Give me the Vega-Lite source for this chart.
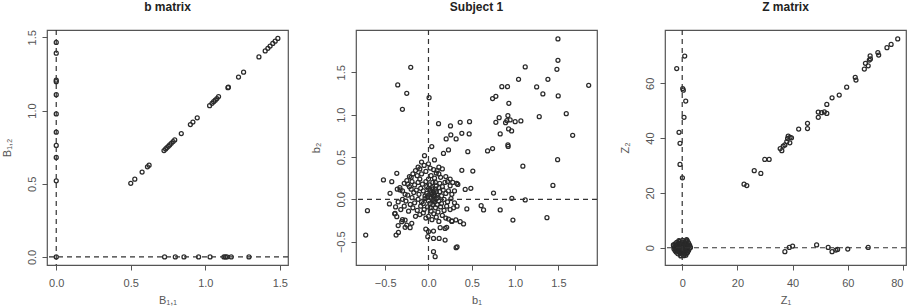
{
  "$schema": "https://vega.github.io/schema/vega-lite/v6.json",
  "padding": 0,
  "background": "white",
  "spacing": 68,
  "bounds": "flush",
  "config": {
    "view": {"stroke": "#555", "strokeWidth": 1.2},
    "axis": {"domain": false, "grid": false, "ticks": true, "tickSize": 5, "tickColor": "#555", "tickWidth": 1,
      "labelFont": "Liberation Sans, DejaVu Sans", "labelFontSize": 11, "labelColor": "#555", "labelFlush": false, "labelOverlap": false, "labelBound": false,
      "titleFont": "Liberation Sans, DejaVu Sans", "titleFontSize": 11, "titleFontWeight": "normal", "titleColor": "#555"},
    "axisX": {"labelBaseline": "middle", "labelPadding": 13, "titleY": 35, "titleBaseline": "middle"},
    "axisY": {"labelAngle": 270, "labelAlign": "center", "labelBaseline": "middle", "labelPadding": 10, "titleX": -40, "titleBaseline": "middle", "titleAngle": 270},
    "title": {"font": "Liberation Sans, DejaVu Sans", "fontSize": 12, "fontWeight": "bold", "color": "#222", "offset": 15, "anchor": "middle"},
    "point": {"shape": "circle", "filled": false, "stroke": "#2a2a2a", "strokeWidth": 1.25, "size": 16, "opacity": 1}
  },
  "datasets": {
    "b": [
      {"x":0,"y":1.465},{"x":0,"y":1.392},{"x":0,"y":1.207},{"x":0,"y":1.197},{"x":0,"y":1.108},{"x":0,"y":0.977},{"x":0,"y":0.852},{"x":0,"y":0.762},{"x":0,"y":0.68},{"x":0,"y":0.52},{"x":0,"y":0},
      {"x":0.727,"y":0},{"x":0.799,"y":0},{"x":0.857,"y":0},{"x":0.955,"y":0},{"x":1.032,"y":0},{"x":1.125,"y":0},{"x":1.135,"y":0},{"x":1.145,"y":0},{"x":1.174,"y":0},{"x":1.293,"y":0},
      {"x":0.5,"y":0.503},{"x":0.527,"y":0.531},{"x":0.576,"y":0.58},{"x":0.612,"y":0.616},{"x":0.623,"y":0.627},{"x":0.723,"y":0.727},{"x":0.734,"y":0.738},{"x":0.743,"y":0.747},{"x":0.752,"y":0.756},{"x":0.761,"y":0.765},{"x":0.772,"y":0.776},{"x":0.784,"y":0.788},{"x":0.795,"y":0.799},{"x":0.839,"y":0.843},{"x":0.9,"y":0.904},{"x":0.917,"y":0.921},{"x":0.946,"y":0.95},{"x":1.029,"y":1.033},{"x":1.045,"y":1.049},{"x":1.056,"y":1.06},{"x":1.067,"y":1.071},{"x":1.078,"y":1.082},{"x":1.089,"y":1.095},{"x":1.152,"y":1.156},{"x":1.155,"y":1.159},{"x":1.223,"y":1.229},{"x":1.257,"y":1.262},{"x":1.36,"y":1.366},{"x":1.402,"y":1.407},{"x":1.42,"y":1.425},{"x":1.435,"y":1.44},{"x":1.453,"y":1.458},{"x":1.469,"y":1.474},{"x":1.487,"y":1.492}
    ],
    "s": [
      {"x":-0.205,"y":1.56},{"x":-0.355,"y":1.351},{"x":-0.251,"y":1.252},{"x":0.007,"y":1.201},{"x":-0.301,"y":1.063},
      {"x":0.116,"y":0.894},{"x":0.254,"y":0.867},{"x":0.366,"y":0.91},{"x":0.474,"y":0.918},{"x":0.258,"y":0.761},{"x":0.204,"y":0.713},{"x":0.319,"y":0.713},{"x":0.385,"y":0.78},{"x":0.47,"y":0.772},{"x":0.038,"y":0.623},
      {"x":1.495,"y":1.895},{"x":1.495,"y":1.642},{"x":1.117,"y":1.564},{"x":1.483,"y":1.536},{"x":1.04,"y":1.418},{"x":1.379,"y":1.418},{"x":0.847,"y":1.331},{"x":0.913,"y":1.331},{"x":1.249,"y":1.328},{"x":1.85,"y":1.347},{"x":1.321,"y":1.245},{"x":1.498,"y":1.221},{"x":0.74,"y":1.19},{"x":0.778,"y":1.217},{"x":0.928,"y":1.134},{"x":1.591,"y":1.012},{"x":1.279,"y":0.977},{"x":0.917,"y":0.989},{"x":0.816,"y":0.965},{"x":0.778,"y":0.91},{"x":0.89,"y":0.906},{"x":0.905,"y":0.93},{"x":0.943,"y":0.938},{"x":1.001,"y":0.918},{"x":1.067,"y":0.926},{"x":0.925,"y":0.832},{"x":0.96,"y":0.808},{"x":0.828,"y":0.772},{"x":1.665,"y":0.756},{"x":0.917,"y":0.643},{"x":0.92,"y":0.625},
      {"x":0.454,"y":0.563},{"x":0.682,"y":0.572},{"x":0.74,"y":0.6},{"x":1.09,"y":0.392},{"x":1.491,"y":0.469},{"x":1.437,"y":0.165},{"x":0.385,"y":0.343},{"x":0.512,"y":0.335},{"x":0.424,"y":0.118},{"x":0.489,"y":0.13},{"x":0.751,"y":0.075},{"x":0.963,"y":0.012},{"x":1.117,"y":-0.007},{"x":0.443,"y":-0.113},{"x":0.608,"y":-0.074},{"x":0.636,"y":-0.125},{"x":0.828,"y":-0.125},{"x":0.975,"y":-0.244},{"x":1.368,"y":-0.216},{"x":0.405,"y":-0.29},
      {"x":-0.046,"y":0.516},{"x":0.069,"y":0.465},{"x":0.173,"y":0.543},{"x":0.231,"y":0.583},{"x":-0.366,"y":0.307},{"x":-0.52,"y":0.229},{"x":-0.424,"y":0.209},{"x":-0.444,"y":0.071},{"x":-0.451,"y":-0.054},{"x":-0.705,"y":-0.134},{"x":-0.725,"y":-0.421},{"x":-0.386,"y":-0.165},{"x":-0.366,"y":-0.204},{"x":-0.328,"y":0.111},{"x":-0.374,"y":-0.421},{"x":-0.347,"y":-0.39},{"x":-0.309,"y":-0.263},{"x":-0.27,"y":-0.244},{"x":-0.251,"y":-0.303},{"x":-0.212,"y":-0.334},{"x":-0.193,"y":-0.283},{"x":-0.031,"y":-0.35},{"x":0.0,"y":-0.382},{"x":0.058,"y":-0.374},{"x":-0.008,"y":-0.441},{"x":0.058,"y":-0.461},{"x":0.123,"y":-0.461},{"x":0.135,"y":-0.334},{"x":0.192,"y":-0.343},{"x":0.192,"y":-0.48},{"x":0.319,"y":-0.571},{"x":0.33,"y":-0.56},{"x":0.058,"y":-0.618},{"x":0.077,"y":-0.677},{"x":0.269,"y":-0.255},{"x":0.316,"y":-0.243},{"x":0.366,"y":-0.263},{"x":0.231,"y":-0.232},{"x":0.327,"y":0.189},{"x":0.339,"y":0.177},
      {"x":-0.08,"y":0.44},{"x":0.0,"y":0.42},{"x":-0.12,"y":0.38},{"x":-0.1,"y":0.36},{"x":-0.05,"y":0.4},{"x":0.02,"y":0.37},{"x":0.06,"y":0.35},{"x":0.12,"y":0.38},{"x":0.1,"y":0.34},{"x":-0.15,"y":0.34},{"x":0.09,"y":0.31},{"x":0.16,"y":0.36},
      {"x":-0.22,"y":0.27},{"x":-0.2,"y":0.26},{"x":-0.25,"y":0.22},{"x":-0.18,"y":0.3},{"x":-0.13,"y":0.28},{"x":-0.08,"y":0.3},{"x":-0.03,"y":0.33},{"x":0.03,"y":0.28},{"x":0.07,"y":0.25},{"x":0.12,"y":0.3},{"x":0.2,"y":0.27},{"x":0.25,"y":0.24},{"x":0.14,"y":0.26},{"x":-0.1,"y":0.24},{"x":0.0,"y":0.24},{"x":0.22,"y":0.21},{"x":0.19,"y":0.2},
      {"x":-0.28,"y":0.19},{"x":-0.24,"y":0.18},{"x":-0.19,"y":0.21},{"x":-0.16,"y":0.17},{"x":-0.12,"y":0.2},{"x":-0.07,"y":0.18},{"x":-0.03,"y":0.21},{"x":0.01,"y":0.17},{"x":0.05,"y":0.2},{"x":0.09,"y":0.16},{"x":0.13,"y":0.19},{"x":0.16,"y":0.15},{"x":0.25,"y":0.16},{"x":0.28,"y":0.2},{"x":-0.33,"y":0.14},{"x":-0.36,"y":0.12},{"x":-0.22,"y":0.15},{"x":0.04,"y":0.14},{"x":-0.09,"y":0.13},
      {"x":-0.3,"y":0.1},{"x":-0.27,"y":0.06},{"x":-0.2,"y":0.12},{"x":-0.17,"y":0.08},{"x":-0.14,"y":0.11},{"x":-0.11,"y":0.06},{"x":-0.06,"y":0.1},{"x":-0.02,"y":0.07},{"x":0.02,"y":0.11},{"x":0.06,"y":0.08},{"x":0.08,"y":0.12},{"x":0.1,"y":0.05},{"x":0.13,"y":0.09},{"x":0.17,"y":0.11},{"x":0.2,"y":0.07},{"x":0.23,"y":0.1},{"x":0.27,"y":0.06},{"x":0.3,"y":0.1},{"x":0.06,"y":0.04},{"x":0.04,"y":0.06},{"x":0.11,"y":0.02},{"x":-0.04,"y":0.04},{"x":0.15,"y":0.04},{"x":-0.24,"y":0.05},{"x":0.09,"y":0.09},{"x":0.0,"y":0.13},{"x":0.03,"y":0.02},
      {"x":-0.35,"y":-0.03},{"x":-0.3,"y":0.0},{"x":-0.26,"y":-0.02},{"x":-0.19,"y":0.02},{"x":-0.16,"y":-0.04},{"x":-0.12,"y":0.0},{"x":-0.08,"y":-0.03},{"x":-0.04,"y":0.01},{"x":0.0,"y":-0.02},{"x":0.02,"y":-0.05},{"x":0.05,"y":0.0},{"x":0.07,"y":-0.03},{"x":0.09,"y":0.01},{"x":0.12,"y":-0.02},{"x":0.15,"y":-0.05},{"x":0.18,"y":0.0},{"x":0.22,"y":-0.03},{"x":0.26,"y":0.01},{"x":0.3,"y":-0.04},{"x":0.33,"y":-0.08},{"x":-0.21,"y":-0.06},{"x":0.05,"y":-0.06},
      {"x":-0.38,"y":-0.09},{"x":-0.32,"y":-0.12},{"x":-0.28,"y":-0.08},{"x":-0.23,"y":-0.14},{"x":-0.18,"y":-0.1},{"x":-0.13,"y":-0.13},{"x":-0.09,"y":-0.08},{"x":-0.05,"y":-0.12},{"x":-0.01,"y":-0.09},{"x":0.03,"y":-0.14},{"x":0.08,"y":-0.1},{"x":0.11,"y":-0.15},{"x":0.14,"y":-0.09},{"x":0.18,"y":-0.13},{"x":0.21,"y":-0.08},{"x":0.25,"y":-0.12},{"x":0.29,"y":-0.1},{"x":-0.06,"y":-0.16},{"x":0.06,"y":-0.17},
      {"x":-0.39,"y":-0.17},{"x":-0.3,"y":-0.24},{"x":-0.15,"y":-0.2},{"x":-0.1,"y":-0.18},{"x":-0.03,"y":-0.22},{"x":0.0,"y":-0.2},{"x":0.04,"y":-0.24},{"x":0.09,"y":-0.21},{"x":0.12,"y":-0.26},{"x":0.16,"y":-0.19},{"x":0.2,"y":-0.22},{"x":0.27,"y":-0.26},{"x":0.21,"y":-0.33},{"x":-0.35,"y":-0.31},{"x":-0.27,"y":-0.33},
      {"x":0.03,"y":0.08},{"x":0.07,"y":0.06},{"x":-0.01,"y":0.03},{"x":0.05,"y":0.12},{"x":0.1,"y":-0.06},{"x":0.02,"y":-0.1},{"x":-0.06,"y":-0.05},{"x":0.12,"y":0.14},{"x":0.08,"y":0.2},{"x":-0.02,"y":0.15},{"x":0.0,"y":0.05},{"x":0.06,"y":-0.01}
    ],
    "z": [
      {"x":0.9,"y":69.96},{"x":-2.0,"y":65.4},{"x":0.18,"y":58.1},{"x":0.4,"y":57.5},{"x":1.27,"y":53.5},{"x":0.65,"y":47.6},{"x":-1.16,"y":42.1},{"x":-0.8,"y":38.1},{"x":-0.8,"y":30.4},{"x":0.07,"y":25.5},
      {"x":22.4,"y":23.2},{"x":23.4,"y":22.7},{"x":26.1,"y":28.1},{"x":28.5,"y":27.1},{"x":29.9,"y":32.2},{"x":31.5,"y":32.2},{"x":35.5,"y":36.2},{"x":36.1,"y":35.4},{"x":36.6,"y":37.1},{"x":37.2,"y":37.5},{"x":38.2,"y":39.9},{"x":38.4,"y":40.7},{"x":39.1,"y":40.3},{"x":39.6,"y":40.1},{"x":39.0,"y":38.3},{"x":37.9,"y":38.7},{"x":42.2,"y":43.3},{"x":45.4,"y":45.4},{"x":45.4,"y":43.5},{"x":49.3,"y":47.6},{"x":49.3,"y":49.5},{"x":50.5,"y":49.3},{"x":51.5,"y":49.6},{"x":52.4,"y":49.0},{"x":52.4,"y":52.3},{"x":54.3,"y":54.7},{"x":56.9,"y":55.7},{"x":59.6,"y":58.6},{"x":62.7,"y":62.2},{"x":62.97,"y":61.2},{"x":66.0,"y":65.2},{"x":66.4,"y":67.3},{"x":67.4,"y":66.4},{"x":67.8,"y":68.5},{"x":68.1,"y":70.0},{"x":68.2,"y":68.9},{"x":70.9,"y":71.2},{"x":71.2,"y":70.3},{"x":74.2,"y":73.0},{"x":75.7,"y":74.2},{"x":78.1,"y":76.2},
      {"x":37.2,"y":-1.46},{"x":38.8,"y":0.1},{"x":40.0,"y":0.6},{"x":48.7,"y":1.0},{"x":52.9,"y":0.1},{"x":54.3,"y":-1.46},{"x":55.7,"y":-0.85},{"x":56.3,"y":-0.6},{"x":60.0,"y":-0.5},{"x":67.4,"y":0.1},
      {"x":-1.2,"y":2.6},{"x":0.1,"y":2.7},{"x":1.3,"y":2.5},{"x":1.8,"y":2.6},
      {"x":-2.0,"y":2.0},{"x":-1.0,"y":2.1},{"x":-0.3,"y":1.9},{"x":0.5,"y":2.0},{"x":1.2,"y":2.1},{"x":2.2,"y":1.9},
      {"x":-2.6,"y":1.4},{"x":-1.6,"y":1.5},{"x":-0.8,"y":1.3},{"x":0.0,"y":1.4},{"x":0.7,"y":1.5},{"x":1.5,"y":1.3},{"x":2.4,"y":1.4},
      {"x":-3.1,"y":0.8},{"x":-2.2,"y":0.9},{"x":-1.4,"y":0.7},{"x":-0.5,"y":0.8},{"x":0.3,"y":0.9},{"x":1.0,"y":0.7},{"x":1.9,"y":0.8},{"x":2.7,"y":0.9},
      {"x":-2.8,"y":0.2},{"x":-1.9,"y":0.1},{"x":-1.1,"y":0.3},{"x":-0.3,"y":0.2},{"x":0.4,"y":0.1},{"x":1.2,"y":0.3},{"x":2.1,"y":0.2},{"x":3.0,"y":0.1},
      {"x":-3.0,"y":-0.4},{"x":-2.3,"y":-0.3},{"x":-1.5,"y":-0.5},{"x":-0.7,"y":-0.4},{"x":0.1,"y":-0.3},{"x":0.9,"y":-0.5},{"x":1.7,"y":-0.4},{"x":2.6,"y":-0.3},
      {"x":-2.6,"y":-1.0},{"x":-1.8,"y":-1.1},{"x":-1.0,"y":-0.9},{"x":-0.2,"y":-1.0},{"x":0.6,"y":-1.1},{"x":1.4,"y":-0.9},{"x":2.3,"y":-1.0},
      {"x":-2.2,"y":-1.6},{"x":-1.3,"y":-1.5},{"x":-0.5,"y":-1.7},{"x":0.3,"y":-1.6},{"x":1.1,"y":-1.5},{"x":1.9,"y":-1.7},
      {"x":-1.6,"y":-2.2},{"x":-0.8,"y":-2.1},{"x":0.0,"y":-2.3},{"x":0.8,"y":-2.2},{"x":1.6,"y":-2.1},
      {"x":-0.5,"y":-2.8},{"x":0.6,"y":-2.9},{"x":1.3,"y":-2.7},
      {"x":1.6,"y":3.0},{"x":-0.5,"y":-3.0},{"x":-3.2,"y":1.0},{"x":0.2,"y":0.5},{"x":-0.6,"y":-0.1},{"x":0.8,"y":-0.7},{"x":-1.3,"y":1.1},{"x":1.5,"y":0.5},{"x":-0.2,"y":-1.3},{"x":0.5,"y":1.7},{"x":-1.8,"y":-0.6},{"x":2.0,"y":-0.9},{"x":-0.9,"y":2.3}
    ]
  },
  "hconcat": [
    {
      "width": 241, "height": 235,
      "title": "b matrix",
      "layer": [
        {"data": {"name": "b"}, "mark": {"type": "point"},
         "encoding": {
           "x": {"field": "x", "type": "quantitative", "scale": {"domain": [-0.062, 1.555], "nice": false, "zero": false}, "axis": {"title": "B₁,₁", "values": [0, 0.5, 1, 1.5], "format": ".1f"}},
           "y": {"field": "y", "type": "quantitative", "scale": {"domain": [-0.055, 1.55], "nice": false, "zero": false}, "axis": {"title": "B₁,₂", "values": [0, 0.5, 1, 1.5], "format": ".1f"}}
         }},
        {"data": {"values": [{}]}, "mark": {"type": "rule", "stroke": "#333", "strokeWidth": 1.2, "strokeDash": [5, 4]}, "encoding": {"x": {"datum": 0, "type": "quantitative"}}},
        {"data": {"values": [{}]}, "mark": {"type": "rule", "stroke": "#333", "strokeWidth": 1.2, "strokeDash": [5, 4]}, "encoding": {"y": {"datum": 0, "type": "quantitative"}}}
      ]
    },
    {
      "width": 241, "height": 235,
      "title": "Subject 1",
      "layer": [
        {"data": {"name": "s"}, "mark": {"type": "point"},
         "encoding": {
           "x": {"field": "x", "type": "quantitative", "scale": {"domain": [-0.837, 1.946], "nice": false, "zero": false}, "axis": {"title": "b₁", "values": [-0.5, 0, 0.5, 1, 1.5], "format": ".1f"}},
           "y": {"field": "y", "type": "quantitative", "scale": {"domain": [-0.775, 2.0], "nice": false, "zero": false}, "axis": {"title": "b₂", "values": [-0.5, 0, 0.5, 1, 1.5], "format": ".1f"}}
         }},
        {"data": {"values": [{}]}, "mark": {"type": "rule", "stroke": "#333", "strokeWidth": 1.2, "strokeDash": [5, 4]}, "encoding": {"x": {"datum": 0, "type": "quantitative"}}},
        {"data": {"values": [{}]}, "mark": {"type": "rule", "stroke": "#333", "strokeWidth": 1.2, "strokeDash": [5, 4]}, "encoding": {"y": {"datum": 0, "type": "quantitative"}}}
      ]
    },
    {
      "width": 241, "height": 235,
      "title": "Z matrix",
      "layer": [
        {"data": {"name": "z"}, "mark": {"type": "point"},
         "encoding": {
           "x": {"field": "x", "type": "quantitative", "scale": {"domain": [-6.24, 81.1], "nice": false, "zero": false}, "axis": {"title": "Z₁", "values": [0, 20, 40, 60, 80], "format": "d", "labelAlign": {"condition": {"test": "datum.value == 80", "value": "right"}, "value": "center"}, "labelDx": {"condition": {"test": "datum.value == 80", "value": 5}, "value": 0}}},
           "y": {"field": "y", "type": "quantitative", "scale": {"domain": [-6.3, 79.45], "nice": false, "zero": false}, "axis": {"title": "Z₂", "values": [0, 20, 40, 60], "format": "d"}}
         }},
        {"data": {"values": [{}]}, "mark": {"type": "rule", "stroke": "#333", "strokeWidth": 1.2, "strokeDash": [5, 4]}, "encoding": {"x": {"datum": 0, "type": "quantitative"}}},
        {"data": {"values": [{}]}, "mark": {"type": "rule", "stroke": "#333", "strokeWidth": 1.2, "strokeDash": [5, 4]}, "encoding": {"y": {"datum": 0, "type": "quantitative"}}}
      ]
    }
  ]
}
